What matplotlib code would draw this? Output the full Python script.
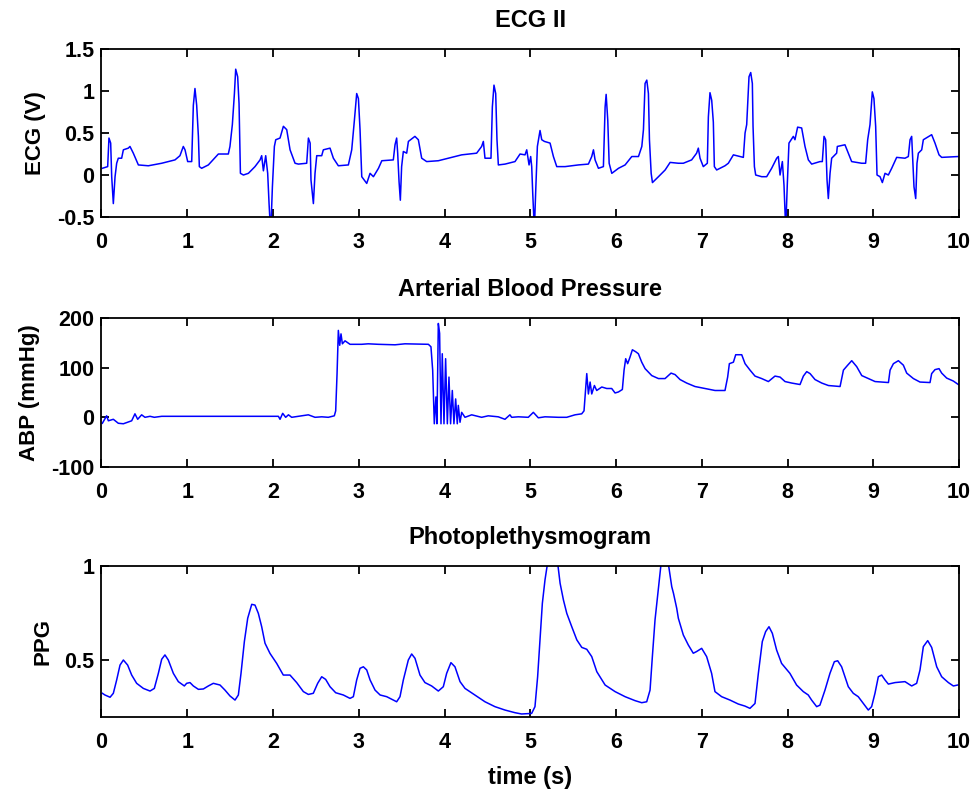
import matplotlib
matplotlib.use('Agg')
import matplotlib.pyplot as plt

plt.rcParams['font.family'] = ['Liberation Sans', 'DejaVu Sans']
plt.rcParams['font.weight'] = 'bold'

# ECG lead II (V)
ecg_t = [0.01, 0.072, 0.087, 0.107, 0.119, 0.138, 0.158, 0.177, 0.196, 0.235,
         0.255, 0.313, 0.332, 0.371, 0.43, 0.546, 0.702, 0.857, 0.915, 0.954,
         0.974, 1.005, 1.052, 1.071, 1.09, 1.11, 1.13, 1.141, 1.168, 1.246,
         1.363, 1.479, 1.498, 1.526, 1.55, 1.565, 1.588, 1.604, 1.62, 1.655,
         1.713, 1.79, 1.849, 1.868, 1.888, 1.915, 1.938, 1.954, 1.973, 1.993,
         2.016, 2.032, 2.082, 2.121, 2.16, 2.199, 2.257, 2.296, 2.393, 2.413,
         2.433, 2.443, 2.471, 2.49, 2.51, 2.568, 2.587, 2.665, 2.704, 2.762,
         2.879, 2.918, 2.949, 2.976, 2.996, 3.015, 3.035, 3.093, 3.132, 3.171,
         3.23, 3.269, 3.403, 3.423, 3.442, 3.454, 3.47, 3.485, 3.5, 3.52,
         3.559, 3.579, 3.655, 3.695, 3.734, 3.792, 3.928, 4.084, 4.2, 4.375,
         4.433, 4.453, 4.472, 4.542, 4.558, 4.577, 4.597, 4.612, 4.628, 4.706,
         4.822, 4.881, 4.939, 4.959, 4.986, 5.005, 5.017, 5.029, 5.048, 5.064,
         5.083, 5.114, 5.134, 5.165, 5.231, 5.27, 5.309, 5.406, 5.561, 5.678,
         5.717, 5.737, 5.756, 5.795, 5.853, 5.873, 5.885, 5.904, 5.92, 5.951,
         6.029, 6.106, 6.184, 6.262, 6.301, 6.32, 6.339, 6.359, 6.378, 6.39,
         6.41, 6.425, 6.495, 6.573, 6.631, 6.728, 6.785, 6.882, 6.94, 6.96,
         6.98, 7.018, 7.065, 7.077, 7.096, 7.116, 7.135, 7.147, 7.174, 7.271,
         7.31, 7.369, 7.485, 7.505, 7.524, 7.551, 7.571, 7.59, 7.598, 7.614,
         7.629, 7.699, 7.757, 7.815, 7.874, 7.893, 7.913, 7.94, 7.959, 7.979,
         7.998, 8.017, 8.068, 8.087, 8.118, 8.165, 8.204, 8.243, 8.282, 8.379,
         8.406, 8.426, 8.445, 8.461, 8.476, 8.496, 8.515, 8.573, 8.581, 8.67,
         8.709, 8.748, 8.865, 8.911, 8.935, 8.962, 8.989, 9.008, 9.028, 9.044,
         9.079, 9.106, 9.137, 9.176, 9.215, 9.273, 9.37, 9.409, 9.429, 9.448,
         9.459, 9.475, 9.495, 9.51, 9.526, 9.565, 9.584, 9.681, 9.72, 9.767,
         9.798, 9.992]
ecg_v = [0.08, 0.10, 0.44, 0.38, -0.02, -0.34, -0.02, 0.14, 0.20, 0.20,
         0.30, 0.32, 0.34, 0.26, 0.12, 0.11, 0.14, 0.18, 0.23, 0.34,
         0.30, 0.16, 0.16, 0.83, 1.03, 0.83, 0.46, 0.10, 0.08, 0.12,
         0.25, 0.25, 0.34, 0.60, 0.97, 1.26, 1.17, 0.85, 0.02, 0.00,
         0.02, 0.10, 0.18, 0.23, 0.05, 0.23, 0.02, -0.34, -0.70, -0.14,
         0.34, 0.42, 0.44, 0.58, 0.54, 0.30, 0.14, 0.13, 0.14, 0.44,
         0.38, -0.06, -0.34, 0.02, 0.23, 0.23, 0.30, 0.32, 0.20, 0.11,
         0.12, 0.30, 0.65, 0.97, 0.91, 0.54, -0.02, -0.10, 0.02, -0.02,
         0.08, 0.17, 0.18, 0.36, 0.44, 0.26, -0.08, -0.30, 0.10, 0.28,
         0.26, 0.40, 0.46, 0.42, 0.20, 0.16, 0.17, 0.21, 0.24, 0.26,
         0.34, 0.40, 0.20, 0.20, 0.81, 1.07, 0.97, 0.42, 0.12, 0.13,
         0.16, 0.25, 0.24, 0.30, 0.12, 0.22, 0.10, -0.22, -0.65, -0.18,
         0.34, 0.53, 0.42, 0.40, 0.38, 0.22, 0.10, 0.10, 0.12, 0.13,
         0.22, 0.30, 0.18, 0.08, 0.10, 0.81, 0.96, 0.65, 0.14, 0.02,
         0.08, 0.12, 0.22, 0.22, 0.34, 0.54, 1.09, 1.13, 0.97, 0.42,
         0.02, -0.09, -0.02, 0.06, 0.15, 0.14, 0.14, 0.18, 0.26, 0.32,
         0.20, 0.10, 0.14, 0.69, 0.98, 0.89, 0.63, 0.10, 0.06, 0.11,
         0.14, 0.24, 0.21, 0.50, 0.60, 1.17, 1.22, 1.09, 0.58, 0.10,
         0.00, -0.02, -0.02, 0.08, 0.20, 0.22, 0.00, 0.16, -0.12, -0.65,
         -0.10, 0.38, 0.46, 0.42, 0.57, 0.56, 0.34, 0.18, 0.13, 0.16,
         0.16, 0.46, 0.42, -0.06, -0.28, 0.02, 0.20, 0.26, 0.34, 0.36,
         0.26, 0.16, 0.14, 0.14, 0.42, 0.60, 0.99, 0.91, 0.58, 0.00,
         -0.02, -0.09, 0.02, 0.00, 0.08, 0.21, 0.20, 0.22, 0.42, 0.46,
         0.22, -0.14, -0.28, 0.14, 0.26, 0.30, 0.42, 0.48, 0.38, 0.24,
         0.21, 0.22]

# arterial blood pressure (mmHg)
abp_t = [0.01, 0.06, 0.08, 0.138, 0.196, 0.255, 0.352, 0.39, 0.422, 0.468,
         0.507, 0.566, 0.616, 0.702, 2.063, 2.082, 2.113, 2.148, 2.18, 2.218,
         2.412, 2.49, 2.568, 2.645, 2.715, 2.731, 2.747, 2.762, 2.778, 2.793,
         2.809, 2.84, 2.898, 3.034, 3.11, 3.227, 3.423, 3.539, 3.812, 3.842,
         3.862, 3.881, 3.9, 3.912, 3.928, 3.943, 3.959, 3.974, 3.994, 4.013,
         4.033, 4.052, 4.071, 4.091, 4.11, 4.13, 4.149, 4.161, 4.181, 4.2,
         4.239, 4.317, 4.433, 4.51, 4.627, 4.705, 4.763, 4.783, 4.861, 4.977,
         5.036, 5.094, 5.172, 5.328, 5.425, 5.522, 5.6, 5.627, 5.639, 5.659,
         5.678, 5.698, 5.717, 5.748, 5.775, 5.834, 5.892, 5.95, 5.989, 6.028,
         6.074, 6.094, 6.113, 6.136, 6.163, 6.191, 6.23, 6.261, 6.3, 6.339,
         6.417, 6.495, 6.572, 6.642, 6.689, 6.747, 6.824, 6.921, 7.038, 7.155,
         7.271, 7.302, 7.322, 7.369, 7.396, 7.466, 7.505, 7.563, 7.621, 7.699,
         7.777, 7.854, 7.913, 7.971, 8.048, 8.146, 8.185, 8.224, 8.263, 8.321,
         8.399, 8.477, 8.613, 8.652, 8.702, 8.749, 8.807, 8.866, 8.943, 9.021,
         9.177, 9.196, 9.235, 9.293, 9.351, 9.39, 9.468, 9.545, 9.662, 9.681,
         9.72, 9.767, 9.798, 9.856, 9.934, 9.992]
abp_v = [-12, 3, -7, -4, -12, -13, -7, 7, -4, 5,
         0, 2, 0, 2, 2, -4, 8, 0, 5, 0,
         5, 0, 1, 0, 3, 13, 88, 175, 145, 168,
         148, 154, 147, 147, 148, 147, 146, 148, 147, 142,
         95, -13, 41, -13, 189, 169, -13, 128, -13, 118,
         -13, 81, -13, 54, -13, 37, -13, 24, -10, 10,
         0, 5, 0, 3, 1, -4, 5, 0, 1, 0,
         10, -1, 1, 0, 0, 5, 7, 13, 41, 88,
         47, 71, 47, 64, 54, 61, 58, 58, 49, 51,
         56, 95, 118, 108, 121, 136, 132, 128, 111, 98,
         84, 78, 78, 89, 86, 76, 69, 62, 58, 54,
         54, 81, 108, 111, 126, 126, 108, 95, 83, 78,
         72, 83, 81, 72, 69, 66, 83, 92, 88, 76,
         69, 64, 62, 95, 105, 114, 102, 84, 78, 72,
         70, 95, 108, 114, 105, 89, 78, 71, 70, 88,
         96, 98, 89, 79, 73, 66]

# photoplethysmogram (normalised)
ppg_t = [0.01, 0.04, 0.1, 0.138, 0.177, 0.216, 0.255, 0.305, 0.352, 0.41,
         0.488, 0.566, 0.616, 0.663, 0.702, 0.74, 0.779, 0.838, 0.896, 0.966,
         0.993, 1.032, 1.071, 1.13, 1.188, 1.246, 1.304, 1.382, 1.44, 1.498,
         1.557, 1.596, 1.627, 1.666, 1.705, 1.752, 1.79, 1.829, 1.868, 1.907,
         1.965, 2.043, 2.12, 2.198, 2.276, 2.354, 2.412, 2.47, 2.521, 2.568,
         2.614, 2.665, 2.731, 2.82, 2.898, 2.937, 2.976, 3.015, 3.054, 3.093,
         3.132, 3.19, 3.249, 3.326, 3.404, 3.442, 3.481, 3.52, 3.578, 3.617,
         3.656, 3.714, 3.772, 3.85, 3.928, 3.986, 4.025, 4.075, 4.122, 4.181,
         4.239, 4.355, 4.472, 4.588, 4.705, 4.821, 4.899, 5.016, 5.055, 5.086,
         5.114, 5.141, 5.172, 5.2, 5.26, 5.321, 5.348, 5.387, 5.426, 5.484,
         5.543, 5.601, 5.659, 5.717, 5.776, 5.873, 5.989, 6.106, 6.222, 6.3,
         6.358, 6.397, 6.424, 6.455, 6.494, 6.525, 6.57, 6.611, 6.65, 6.67,
         6.708, 6.727, 6.785, 6.843, 6.901, 6.94, 6.999, 7.057, 7.115, 7.154,
         7.232, 7.329, 7.426, 7.504, 7.562, 7.621, 7.66, 7.706, 7.745, 7.784,
         7.823, 7.873, 7.931, 8.028, 8.106, 8.184, 8.242, 8.281, 8.34, 8.378,
         8.437, 8.495, 8.546, 8.585, 8.631, 8.709, 8.767, 8.825, 8.884, 8.942,
         8.981, 9.02, 9.059, 9.098, 9.137, 9.176, 9.254, 9.37, 9.448, 9.506,
         9.545, 9.584, 9.635, 9.681, 9.74, 9.798, 9.876, 9.934, 9.985]
ppg_v = [0.323, 0.314, 0.302, 0.323, 0.394, 0.473, 0.500, 0.473, 0.420, 0.376,
         0.349, 0.335, 0.349, 0.429, 0.504, 0.527, 0.500, 0.429, 0.385, 0.362,
         0.376, 0.380, 0.362, 0.344, 0.346, 0.362, 0.376, 0.367, 0.340, 0.309,
         0.287, 0.314, 0.429, 0.598, 0.722, 0.796, 0.792, 0.748, 0.677, 0.589,
         0.535, 0.482, 0.420, 0.420, 0.380, 0.332, 0.317, 0.323, 0.376, 0.411,
         0.397, 0.358, 0.326, 0.314, 0.296, 0.305, 0.394, 0.456, 0.464, 0.447,
         0.394, 0.340, 0.314, 0.305, 0.287, 0.278, 0.305, 0.394, 0.500, 0.532,
         0.509, 0.420, 0.380, 0.362, 0.335, 0.358, 0.429, 0.486, 0.464, 0.385,
         0.349, 0.314, 0.278, 0.252, 0.234, 0.220, 0.213, 0.216, 0.252, 0.411,
         0.607, 0.801, 0.926, 1.010, 1.060, 1.010, 0.908, 0.819, 0.748, 0.677,
         0.607, 0.567, 0.557, 0.518, 0.438, 0.367, 0.332, 0.305, 0.284, 0.273,
         0.278, 0.340, 0.518, 0.713, 0.881, 1.010, 1.060, 1.010, 0.890, 0.855,
         0.775, 0.722, 0.633, 0.580, 0.536, 0.545, 0.562, 0.518, 0.429, 0.332,
         0.305, 0.287, 0.266, 0.255, 0.243, 0.269, 0.429, 0.598, 0.651, 0.677,
         0.642, 0.553, 0.482, 0.429, 0.367, 0.332, 0.314, 0.287, 0.252, 0.260,
         0.340, 0.429, 0.491, 0.496, 0.464, 0.358, 0.323, 0.305, 0.269, 0.234,
         0.252, 0.323, 0.411, 0.420, 0.394, 0.372, 0.380, 0.385, 0.362, 0.376,
         0.447, 0.571, 0.603, 0.567, 0.464, 0.411, 0.380, 0.362, 0.367]

panels = [
    ('ECG II', 'ECG (V)', ecg_t, ecg_v, (-0.5, 1.5), [-0.5, 0, 0.5, 1, 1.5],
     ['-0.5', '0', '0.5', '1', '1.5']),
    ('Arterial Blood Pressure', 'ABP (mmHg)', abp_t, abp_v, (-100, 200),
     [-100, 0, 100, 200], ['-100', '0', '100', '200']),
    ('Photoplethysmogram', 'PPG', ppg_t, ppg_v, (0.197, 1.0), [0.5, 1],
     ['0.5', '1']),
]

# axes rectangles [left, bottom, width, height] in figure fractions
rects = [
    [0.1041, 0.7260, 0.8795, 0.2121],
    [0.1041, 0.4104, 0.8795, 0.1881],
    [0.1041, 0.0947, 0.8795, 0.1907],
]

TICK_FS = 15.5
LABEL_FS = 16
TITLE_FS = 17

fig = plt.figure(figsize=(9.75, 7.92), dpi=100)

for (title, ylab, t, v, ylim, yt, ytl), rect in zip(panels, rects):
    ax = fig.add_axes(rect)
    ax.plot(t, v, color='#0000FF', linewidth=1.1)
    ax.set_xlim(0, 10)
    ax.set_ylim(*ylim)
    ax.set_xticks(range(0, 11))
    ax.set_yticks(yt)
    ax.set_yticklabels(ytl)
    ax.set_title(title, fontsize=TITLE_FS, fontweight='bold', pad=16)
    ax.set_ylabel(ylab, fontsize=LABEL_FS, fontweight='bold', labelpad=8)
    ax.tick_params(direction='in', top=True, right=True, length=6,
                   width=1.3, labelsize=TICK_FS)
    ax.tick_params(axis='x', pad=11)
    ax.tick_params(axis='y', pad=5)
    for sp in ax.spines.values():
        sp.set_linewidth(1.3)

ax.set_xlabel('time (s)', fontsize=TITLE_FS, fontweight='bold', labelpad=9)

fig.savefig('out.png', dpi=100)
